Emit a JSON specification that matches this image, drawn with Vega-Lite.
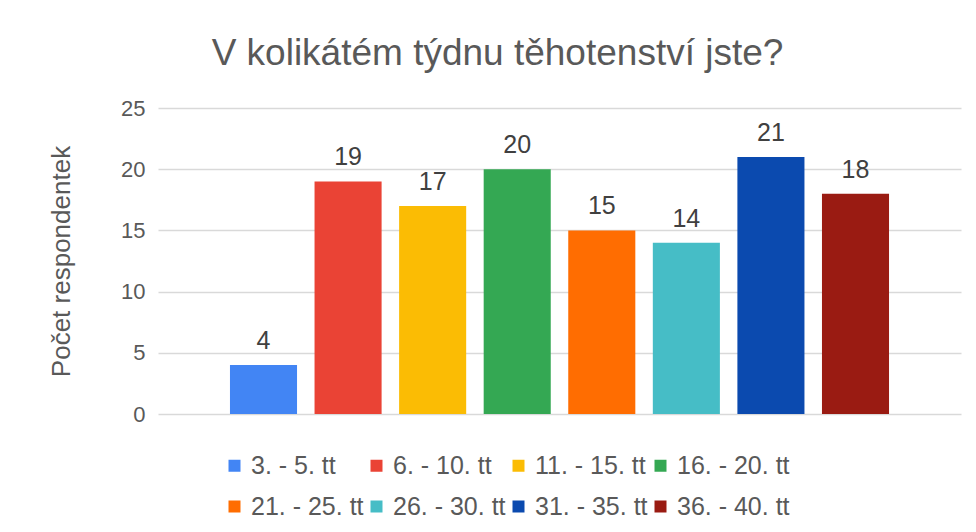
{
  "$schema": "https://vega.github.io/schema/vega-lite/v6.json",
  "width": 803,
  "height": 306,
  "autosize": {"type": "none"},
  "padding": {"left": 158, "top": 108, "right": 15, "bottom": 118},
  "background": "white",
  "title": {
    "text": "V kolikátém týdnu těhotenství jste?",
    "fontSize": 37,
    "font": "Liberation Sans",
    "fontWeight": "normal",
    "color": "#595959",
    "anchor": "middle",
    "frame": "group",
    "dx": -62,
    "offset": 24
  },
  "data": {
    "values": [
      {"kat": "3. - 5. tt", "pocet": 4},
      {"kat": "6. - 10. tt", "pocet": 19},
      {"kat": "11. - 15. tt", "pocet": 17},
      {"kat": "16. - 20. tt", "pocet": 20},
      {"kat": "21. - 25. tt", "pocet": 15},
      {"kat": "26. - 30. tt", "pocet": 14},
      {"kat": "31. - 35. tt", "pocet": 21},
      {"kat": "36. - 40. tt", "pocet": 18}
    ]
  },
  "encoding": {
    "x": {
      "field": "kat",
      "type": "nominal",
      "sort": null,
      "axis": null,
      "scale": {"paddingInner": 0.207, "paddingOuter": 0.851}
    },
    "y": {
      "field": "pocet",
      "type": "quantitative",
      "scale": {"domain": [0, 25]},
      "axis": {
        "title": "Počet respondentek",
        "titleFontSize": 26,
        "titleFontWeight": "normal",
        "titleColor": "#595959",
        "titleFont": "Liberation Sans",
        "labelFont": "Liberation Sans",
        "labelFontSize": 22,
        "labelColor": "#595959",
        "values": [0, 5, 10, 15, 20, 25],
        "domain": false,
        "ticks": false,
        "gridColor": "#d9d9d9",
        "gridWidth": 1.5,
        "labelPadding": 13,
        "titlePadding": 46
      }
    }
  },
  "layer": [
    {
      "mark": {"type": "bar"},
      "encoding": {
        "color": {
          "field": "kat",
          "type": "nominal",
          "sort": null,
          "scale": {
            "domain": ["3. - 5. tt", "6. - 10. tt", "11. - 15. tt", "16. - 20. tt", "21. - 25. tt", "26. - 30. tt", "31. - 35. tt", "36. - 40. tt"],
            "range": ["#4285F4", "#EA4335", "#FBBC04", "#34A853", "#FF6D01", "#46BDC6", "#0B4AAF", "#9A1B12"]
          },
          "legend": {
            "title": null,
            "orient": "none",
            "legendX": 64,
            "legendY": 345,
            "direction": "horizontal",
            "columns": 4,
            "symbolType": "square",
            "symbolSize": 144,
            "symbolStrokeWidth": 0,
            "labelFont": "Liberation Sans",
            "labelFontSize": 25,
            "labelColor": "#595959",
            "gridAlign": "all",
            "columnPadding": -4,
            "rowPadding": 15,
            "labelOffset": 4,
            "padding": 0
          }
        }
      }
    },
    {
      "mark": {"type": "text", "baseline": "alphabetic", "dy": -16, "fontSize": 25, "font": "Liberation Sans", "color": "#404040"},
      "encoding": {"text": {"field": "pocet", "type": "quantitative"}}
    }
  ],
  "config": {"view": {"stroke": null}}
}
